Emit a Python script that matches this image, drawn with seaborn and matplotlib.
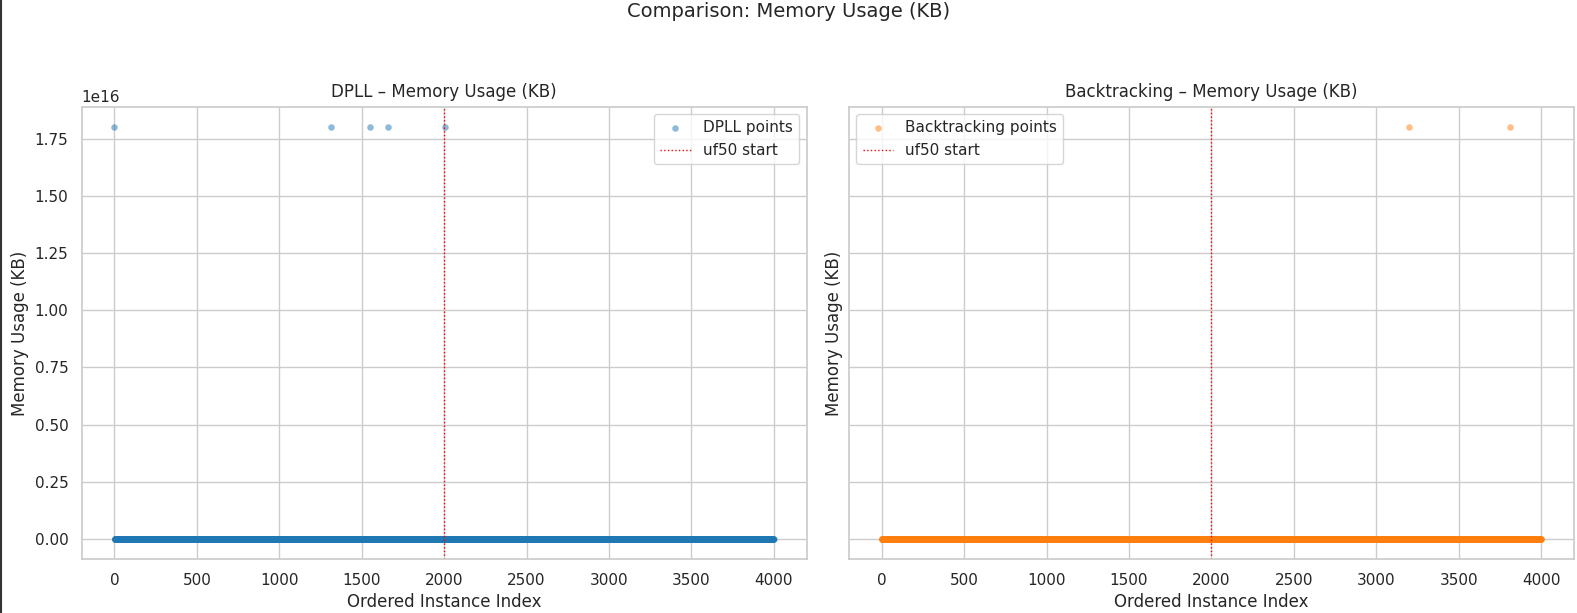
import numpy as np
import pandas as pd
import matplotlib
matplotlib.use("Agg")
import matplotlib.pyplot as plt
import seaborn as sns
from matplotlib.lines import Line2D

# ---- data ----
n_instances = 4000
uf50_start = 2000
outlier_value = 18014398509481984  # ~1.80e16 KB (sentinel spike)
baseline_kb = 0.0                  # typical memory usage, indistinguishable from 0 at this scale
dpll_outlier_idx = [0, 1313, 1552, 1660, 2003]
bt_outlier_idx = [3199, 3812]

index = np.arange(n_instances)
dpll_mem = np.full(n_instances, baseline_kb)
dpll_mem[dpll_outlier_idx] = outlier_value
bt_mem = np.full(n_instances, baseline_kb)
bt_mem[bt_outlier_idx] = outlier_value

df_dpll = pd.DataFrame({"idx": index, "mem": dpll_mem})
df_bt = pd.DataFrame({"idx": index, "mem": bt_mem})

sns.set_theme(style="whitegrid")
plt.rcParams['font.family'] = ['DejaVu Sans']

fig, axes = plt.subplots(1, 2, figsize=(15.77, 6.13), dpi=100, sharey=True)
fig.subplots_adjust(left=0.0517, right=0.998, top=0.826, bottom=0.0875, wspace=0.0583)

specs = [
    (axes[0], df_dpll, "#1f77b4", "DPLL points", "DPLL – Memory Usage (KB)", "upper right"),
    (axes[1], df_bt, "#ff7f0e", "Backtracking points", "Backtracking – Memory Usage (KB)", "upper left"),
]
for ax, df, color, lab, title, loc in specs:
    sns.scatterplot(data=df, x="idx", y="mem", ax=ax, color=color, s=22,
                    alpha=0.5, edgecolor=None, linewidth=0, label=lab)
    ax.axvline(uf50_start, color="red", linestyle=":", linewidth=1, label="uf50 start")
    ax.set_title(title, fontsize=12, pad=7)
    ax.set_xlabel("Ordered Instance Index", fontsize=12)
    ax.set_ylabel("Memory Usage (KB)", fontsize=12)
    ax.yaxis.label.set_visible(True)
    ax.tick_params(labelsize=11)
    ax.legend(loc=loc, fontsize=11)
    ax.yaxis.set_tick_params(labelleft=(ax is axes[0]))

fig.suptitle("Comparison: Memory Usage (KB)", fontsize=14, y=0.997)
fig.add_artist(Line2D([0.0006, 0.0006], [0, 1], color="#333333", linewidth=1.5,
                      transform=fig.transFigure))

fig.savefig("out.png", dpi=100)
